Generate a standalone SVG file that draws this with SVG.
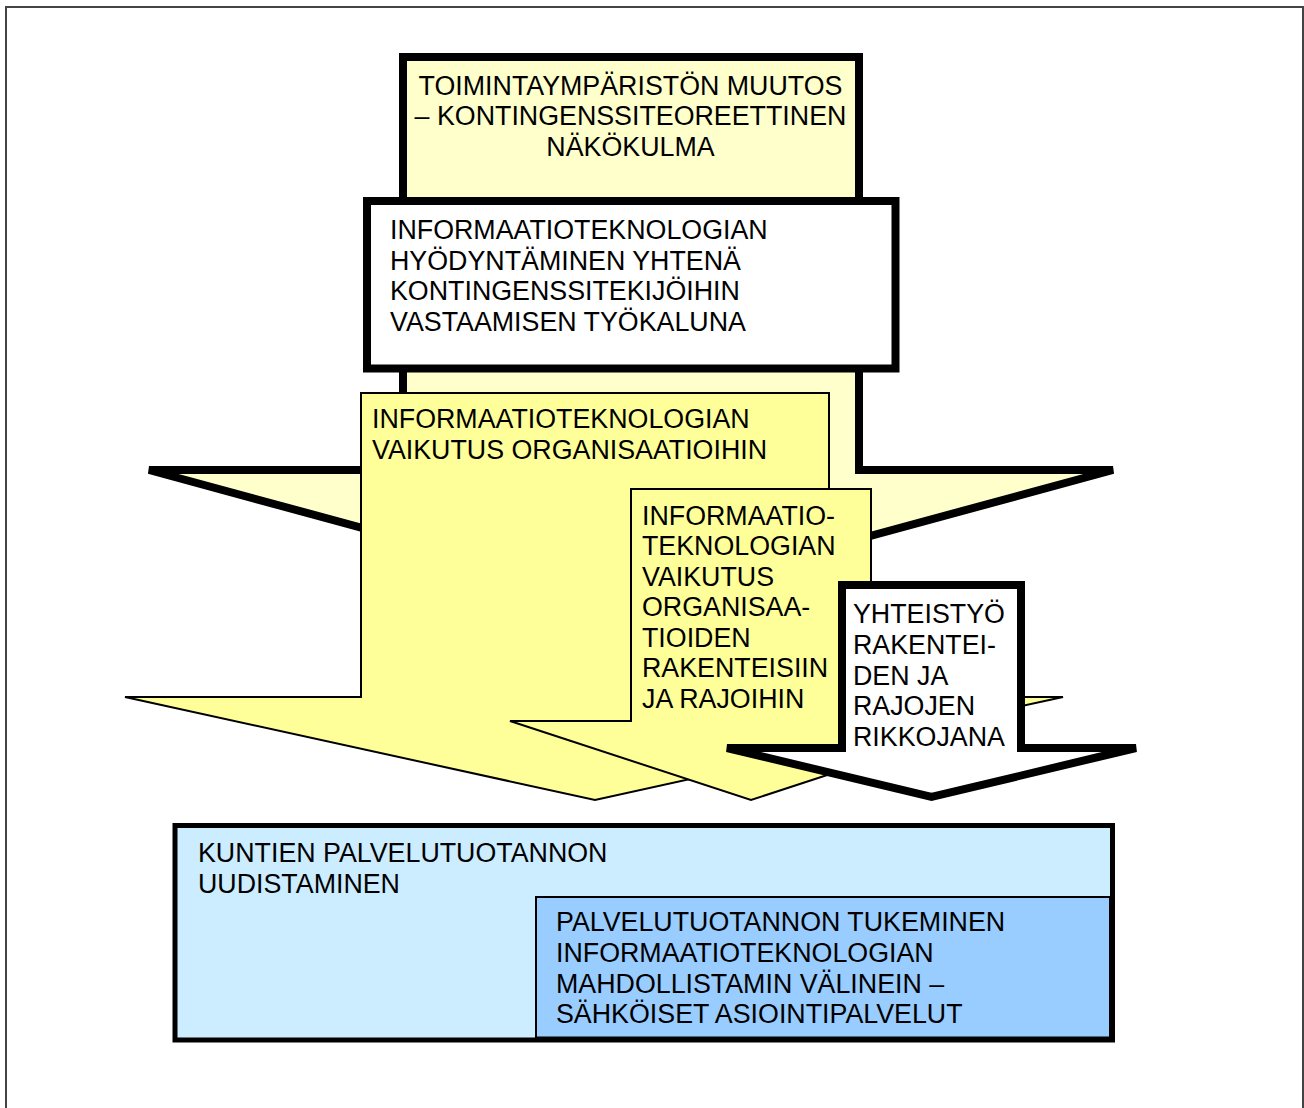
<svg xmlns="http://www.w3.org/2000/svg" width="1304" height="1108" viewBox="0 0 1304 1108">
<style>
text{font-family:"Liberation Sans",Arial,sans-serif;font-size:26.8px;fill:#000}
.thick{stroke:#000;stroke-width:8;stroke-linejoin:miter}
.thin{stroke:#000;stroke-width:2;stroke-linejoin:miter}
.pale{fill:#FFFFCC}
.yel{fill:#FFFF99}
.wht{fill:#FFFFFF}
</style>
<rect x="6" y="7" width="1297" height="1112" fill="#FFFFFF" stroke="#444444" stroke-width="2"/>
<g id="connectors"/>
<g id="n-toimintaymparisto">
<polygon class="thick pale" points="403,57 859,57 859,470 1113,470 631,601 149,470 403,470"/>
<text x="630.5" y="95" text-anchor="middle">TOIMINTAYMPÄRISTÖN MUUTOS</text>
<text x="630.5" y="125" text-anchor="middle">– KONTINGENSSITEOREETTINEN</text>
<text x="630.5" y="156" text-anchor="middle">NÄKÖKULMA</text>
</g>
<g id="n-hyodyntaminen">
<rect class="thick wht" x="367" y="201" width="528.5" height="167.5"/>
<text x="390" y="239">INFORMAATIOTEKNOLOGIAN</text>
<text x="390" y="270">HYÖDYNTÄMINEN YHTENÄ</text>
<text x="390" y="300">KONTINGENSSITEKIJÖIHIN</text>
<text x="390" y="331">VASTAAMISEN TYÖKALUNA</text>
</g>
<g id="n-vaikutus">
<polygon class="thin yel" points="361,393 829,393 829,697 1063,697 595,800 125,697 361,697"/>
<text x="372" y="428">INFORMAATIOTEKNOLOGIAN</text>
<text x="372" y="459">VAIKUTUS ORGANISAATIOIHIN</text>
</g>
<g id="n-rakenteet">
<polygon class="thin yel" points="631,489 871,489 871,721 992,721 751,800 510,721 631,721"/>
<text x="642" y="525">INFORMAATIO-</text>
<text x="642" y="555">TEKNOLOGIAN</text>
<text x="642" y="586">VAIKUTUS</text>
<text x="642" y="616">ORGANISAA-</text>
<text x="642" y="647">TIOIDEN</text>
<text x="642" y="677">RAKENTEISIIN</text>
<text x="642" y="708">JA RAJOIHIN</text>
</g>
<g id="n-yhteistyo">
<polygon class="thick wht" points="842,585 1021,585 1021,748 1136,748 931.5,797 727,748 842,748"/>
<text x="853" y="623">YHTEISTYÖ</text>
<text x="853" y="654">RAKENTEI-</text>
<text x="853" y="685">DEN JA</text>
<text x="853" y="715">RAJOJEN</text>
<text x="853" y="746">RIKKOJANA</text>
</g>
<g id="n-kuntien">
<rect x="175" y="825.5" width="937.5" height="214.5" fill="#CCECFF" stroke="#000" stroke-width="5"/>
<text x="198" y="862">KUNTIEN PALVELUTUOTANNON</text>
<text x="198" y="893">UUDISTAMINEN</text>
</g>
<g id="n-tukeminen">
<rect x="536" y="897" width="574" height="140.5" fill="#99CCFF" stroke="#000" stroke-width="2"/>
<text x="556" y="931">PALVELUTUOTANNON TUKEMINEN</text>
<text x="556" y="962">INFORMAATIOTEKNOLOGIAN</text>
<text x="556" y="993">MAHDOLLISTAMIN VÄLINEIN –</text>
<text x="556" y="1023">SÄHKÖISET ASIOINTIPALVELUT</text>
</g>
</svg>
